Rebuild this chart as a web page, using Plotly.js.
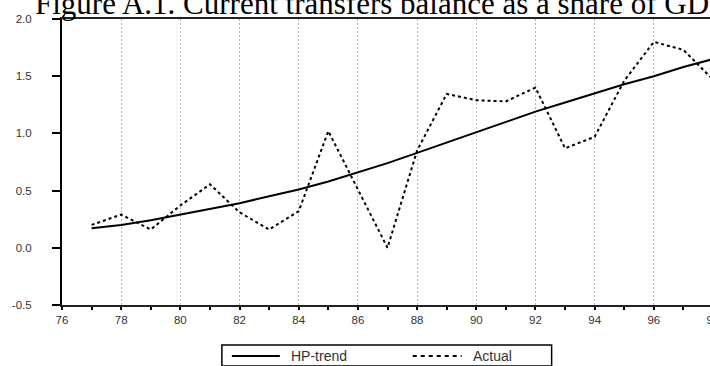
<!DOCTYPE html>
<html>
<head>
<meta charset="utf-8">
<script src="https://cdn.plot.ly/plotly-3.0.1.min.js"></script>
<style>
  html, body { margin: 0; padding: 0; overflow: hidden; background: #fff; }
  #frame { width: 710px; height: 366px; overflow: hidden; position: relative; }
  #chart { width: 740px; height: 366px; }
</style>
</head>
<body>
<div id="frame"><div id="chart"></div></div>
<script>
// Annual observations, 1977-1998 (two-digit years)
const years = [77, 78, 79, 80, 81, 82, 83, 84, 85, 86, 87, 88, 89, 90, 91, 92, 93, 94, 95, 96, 97, 98];
const actual = [0.20, 0.29, 0.16, 0.37, 0.555, 0.31, 0.16, 0.32, 1.02, 0.51, 0.00, 0.85, 1.345, 1.29, 1.28, 1.40, 0.87, 0.97, 1.46, 1.80, 1.73, 1.47];
const hpTrend = [0.17, 0.20, 0.24, 0.29, 0.34, 0.39, 0.45, 0.51, 0.58, 0.66, 0.74, 0.83, 0.92, 1.01, 1.10, 1.19, 1.27, 1.35, 1.43, 1.50, 1.58, 1.65];

const xTickVals = [76, 78, 80, 82, 84, 86, 88, 90, 92, 94, 96, 98];
const xTickText = ['76', '78', '80', '82', '84', '86', '88', '90', '92', '94', '96', '98'];
const yTickVals = [-0.5, 0.0, 0.5, 1.0, 1.5, 2.0];
const yTickText = ['-0.5', '0.0', '0.5', '1.0', '1.5', '2.0'];
const seriesNames = ['HP-trend', 'Actual'];
const titleText = 'Figure A.1. Current transfers balance as a share of GDP';

// Figure geometry (pixels)
const W = 740, H = 366;
const M = { l: 62, r: 26.5, t: 19, b: 61 };
const PW = W - M.l - M.r, PH = H - M.t - M.b;
const px = v => (v - M.l) / PW;          // pixel x -> paper x
const py = v => (H - M.b - v) / PH;      // pixel y -> paper y

const tickFont = { family: 'Liberation Sans, Arial, sans-serif', size: 11.5, color: '#333' };
const legendFont = { family: 'Liberation Sans, Arial, sans-serif', size: 14, color: '#333' };

const traces = [
  {
    x: years, y: hpTrend, name: seriesNames[0], type: 'scatter', mode: 'lines',
    line: { color: '#000', width: 2 }, showlegend: false
  },
  {
    x: years, y: actual, name: seriesNames[1], type: 'scatter', mode: 'lines',
    line: { color: '#000', width: 2, dash: '3px,3px' }, showlegend: false
  }
];

// Boxed key under the axis
const legendBox = { x0: 222, x1: 552, y0: 345, y1: 366 };
const keyY = 356;
const shapes = [
  {
    type: 'rect', xref: 'paper', yref: 'paper',
    x0: px(legendBox.x0), x1: px(legendBox.x1), y0: py(legendBox.y1), y1: py(legendBox.y0),
    line: { color: '#000', width: 1.5 }, fillcolor: 'rgba(0,0,0,0)'
  },
  {
    type: 'line', xref: 'paper', yref: 'paper',
    x0: px(232), x1: px(280), y0: py(keyY), y1: py(keyY),
    line: { color: '#000', width: 2 }
  },
  {
    type: 'line', xref: 'paper', yref: 'paper',
    x0: px(413), x1: px(462), y0: py(keyY), y1: py(keyY),
    line: { color: '#000', width: 2, dash: '4px,4px' }
  }
];
const annotations = [
  {
    xref: 'paper', yref: 'paper', x: px(289), y: py(keyY), xanchor: 'left', yanchor: 'middle',
    text: seriesNames[0], showarrow: false, font: legendFont
  },
  {
    xref: 'paper', yref: 'paper', x: px(471), y: py(keyY), xanchor: 'left', yanchor: 'middle',
    text: seriesNames[1], showarrow: false, font: legendFont
  }
];

const layout = {
  width: W, height: H,
  margin: M,
  paper_bgcolor: '#fff', plot_bgcolor: '#fff',
  showlegend: false,
  title: {
    text: titleText,
    font: { family: 'Liberation Serif, Times New Roman, serif', size: 31, color: '#000' },
    xref: 'container', yref: 'container',
    x: 35 / W, xanchor: 'left',
    y: 1 - 14 / H, yanchor: 'bottom'
  },
  xaxis: {
    range: [76, 98],
    tickmode: 'array', tickvals: xTickVals, ticktext: xTickText,
    ticks: 'outside', ticklen: 3, tickwidth: 2, tickcolor: '#000',
    minor: { dtick: 1, tick0: 77, ticks: 'outside', ticklen: 3, tickwidth: 2, tickcolor: '#000', showgrid: false },
    showline: true, linecolor: '#222', linewidth: 2, mirror: true,
    showgrid: true, gridcolor: '#b4b4b4', gridwidth: 1, griddash: '2px,2px',
    zeroline: false, tickfont: tickFont, ticklabelstandoff: 0, fixedrange: true
  },
  yaxis: {
    range: [-0.5, 2.0],
    tickmode: 'array', tickvals: yTickVals, ticktext: yTickText,
    ticks: 'outside', ticklen: 8, tickwidth: 2, tickcolor: '#000',
    showline: true, linecolor: '#000', linewidth: 2,
    showgrid: false, zeroline: false, tickfont: tickFont, ticklabelstandoff: 18, fixedrange: true
  },
  shapes: shapes,
  annotations: annotations
};

Plotly.newPlot('chart', traces, layout, { staticPlot: true, displayModeBar: false });
</script>
</body>
</html>
